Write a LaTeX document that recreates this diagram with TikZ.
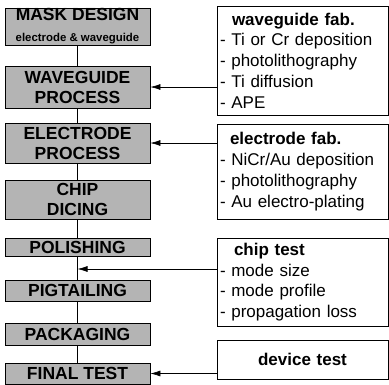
\documentclass[tikz,border=0pt]{standalone}
\usepackage{fontspec}
\setmainfont{Liberation Sans}
\usetikzlibrary{arrows.meta,positioning}
\definecolor{fabgray}{RGB}{180,180,180}
\tikzset{
    fabbox/.style={draw, thick, fill=fabgray, align=center,
        minimum width=145pt, inner sep=0pt,
        font=\fontsize{17.5}{20}\selectfont\bfseries},
    notebox/.style={draw, thick, align=left, minimum width=171pt,
        text width=165pt, inner sep=0pt,
        font=\fontsize{17}{20.8}\selectfont},
    fabline/.style={semithick},
    fabarrow/.style={-{Latex[length=10pt,width=6pt]}, semithick}
}

\begin{document}
\begin{tikzpicture}[x=1pt, y=-1pt]
        \useasboundingbox (0,0) rectangle (389,384);

        % process steps
        \node[fabbox, minimum height=37pt] (mask) at (77.5,26.5)
            {MASK DESIGN\\[1pt]{\fontsize{11.4}{12}\selectfont electrode \& waveguide}};
        \node[fabbox, minimum height=42pt] (wgproc) at (77.5,87)
            {WAVEGUIDE\\PROCESS};
        \node[fabbox, minimum height=40pt] (elproc) at (77.5,143)
            {ELECTRODE\\PROCESS};
        \node[fabbox, minimum height=39pt] (dicing) at (77.5,199.5)
            {CHIP\\DICING};
        \node[fabbox, minimum height=18pt] (polish) at (77.5,247)
            {POLISHING};
        \node[fabbox, minimum height=21pt] (pigtail) at (77.5,290.5)
            {PIGTAILING};
        \node[fabbox, minimum height=22pt] (packag) at (77.5,334)
            {PACKAGING};
        \node[fabbox, minimum height=21pt] (final) at (77.5,373.5)
            {FINAL TEST};

        % notes
        \node[notebox, minimum height=109pt] (wgfab) at (302.5,60.5)
            {\hspace*{12pt}\textbf{waveguide fab.}\\- Ti or Cr deposition\\
             - photolithography\\- Ti diffusion\\- APE};
        \node[notebox, minimum height=95pt] (elfab) at (302.5,171.5)
            {\hspace*{10pt}\textbf{electrode fab.}\\- NiCr/Au deposition\\
             - photolithography\\- Au electro-plating};
        \node[notebox, minimum height=88pt] (chiptest) at (302.5,282)
            {\hspace*{14pt}\textbf{chip test}\\- mode size\\- mode profile\\
             - propagation loss};
        \node[notebox, align=center, minimum height=39pt] (devtest) at (302.5,359.5)
            {\textbf{device test}};

        \coordinate (tap) at (77.5,269);

        \draw[fabline] (mask) -- (wgproc);
        \draw[fabline] (wgproc) -- (elproc);
        \draw[fabline] (elproc) -- (dicing);
        \draw[fabline] (dicing) -- (polish);
        \draw[fabline] (polish) -- (pigtail);
        \draw[fabline] (pigtail) -- (packag);
        \draw[fabline] (packag) -- (final);

        \draw[fabarrow] (wgfab.west |- wgproc) -- (wgproc);
        \draw[fabarrow] (elfab.west |- elproc) -- (elproc);
        \draw[fabarrow] (chiptest.west |- tap) -- (tap);
        \draw[fabarrow] (devtest.west |- final) -- (final);
    \end{tikzpicture}
\end{document}
